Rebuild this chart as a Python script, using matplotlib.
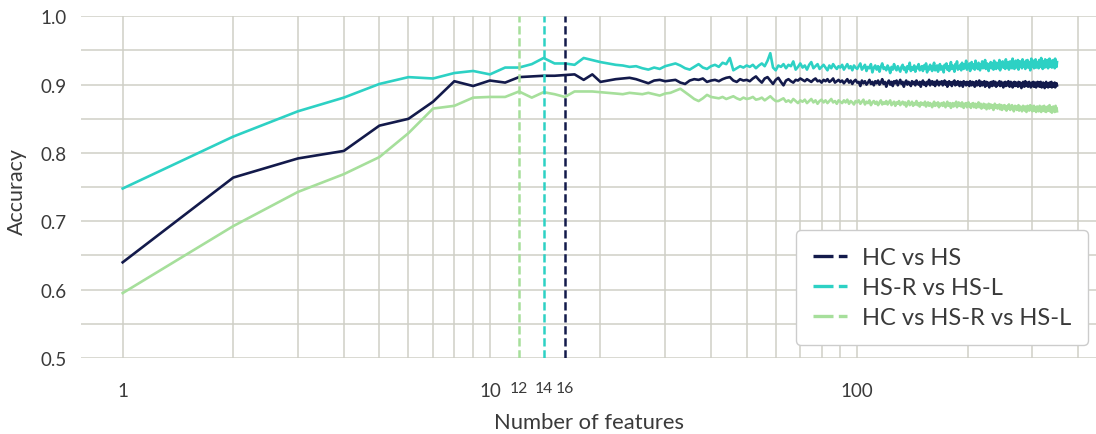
import matplotlib
matplotlib.use("Agg")
import matplotlib.pyplot as plt
from matplotlib.ticker import FixedLocator, NullFormatter, FixedFormatter
import numpy as np

plt.rcParams['font.family'] = ['Lato', 'DejaVu Sans']

# ---------------- data (accuracy in thousandths, n = 1 .. 350) ----------------
hc_hs = [
    640, 764, 792, 803, 840, 850, 875, 905, 898, 906,
    903, 911, 912, 913, 913, 914, 915, 907, 915, 904,
    906, 908, 909, 910, 908, 905, 902, 906, 907, 905,
    906, 907, 903, 901, 906, 908, 907, 909, 904, 906,
    907, 905, 908, 910, 911, 906, 904, 908, 906, 907,
    905, 909, 912, 907, 903, 909, 911, 906, 901, 907,
    910, 904, 899, 906, 908, 905, 903, 907, 906, 909,
    907, 905, 908, 906, 904, 907, 909, 905, 906, 903,
    907, 905, 908, 904, 906, 909, 903, 905, 907, 904,
    906, 902, 905, 908, 903, 906, 901, 905, 907, 903,
    904, 898, 906, 902, 905, 900, 903, 907, 901, 904,
    899, 905, 902, 906, 900, 903, 908, 901, 904, 897,
    903, 906, 900, 904, 898, 905, 902, 906, 899, 903,
    907, 901, 904, 897, 903, 906, 900, 904, 902, 898,
    905, 901, 904, 899, 906, 902, 900, 904, 897, 903,
    906, 900, 903, 898, 904, 901, 907, 899, 903, 905,
    900, 904, 898, 903, 906, 901, 899, 904, 902, 905,
    899, 903, 906, 900, 904, 897, 902, 905, 900, 903,
    898, 904, 901, 906, 899, 903, 900, 905, 902, 898,
    904, 900, 903, 897, 905, 901, 903, 899, 904, 900,
    903, 898, 905, 901, 899, 904, 900, 903, 897, 902,
    905, 899, 903, 900, 906, 898, 902, 904, 899, 903,
    900, 905, 897, 902, 904, 899, 903, 901, 896, 903,
    900, 904, 898, 902, 905, 899, 901, 904, 897, 902,
    899, 903, 900, 905, 898, 901, 904, 899, 902, 896,
    903, 900, 904, 898, 901, 903, 899, 905, 900, 897,
    902, 904, 899, 901, 896, 903, 900, 904, 898, 901,
    903, 899, 902, 897, 904, 900, 898, 903, 901, 895,
    902, 899, 904, 900, 897, 902, 905, 898, 901, 899,
    903, 897, 901, 904, 899, 902, 896, 901, 903, 898,
    900, 904, 897, 901, 899, 903, 896, 902, 900, 904,
    898, 901, 903, 897, 900, 904, 899, 896, 902, 900,
    903, 898, 901, 895, 902, 900, 904, 897, 901, 899,
    896, 902, 900, 903, 897, 901, 899, 904, 896, 900,
    902, 897, 901, 899, 903, 896, 900, 898, 902, 899,
]

hsr_hsl = [
    748, 824, 861, 881, 901, 911, 909, 917, 920, 915,
    925, 925, 930, 939, 931, 931, 929, 939, 936, 933,
    931, 929, 928, 926, 927, 924, 922, 925, 923, 927,
    929, 931, 928, 924, 922, 926, 930, 925, 923, 927,
    929, 926, 932, 930, 939, 921, 924, 927, 925, 928,
    926, 929, 924, 928, 931, 927, 935, 946, 925, 921,
    928, 926, 930, 924, 929, 927, 934, 922, 926, 931,
    925, 928, 922, 929, 933, 924, 927, 930, 923, 926,
    929, 925, 921, 928, 924, 930, 926, 923, 927, 925,
    929, 922, 926, 930, 924, 927, 921, 928, 925, 923,
    927, 931, 922, 925, 929, 920, 926, 924, 930, 918,
    925, 928, 922, 927, 919, 926, 931, 923, 925, 921,
    928, 924, 917, 926, 922, 930, 924, 921, 927, 923,
    919, 926, 929, 922, 925, 918, 927, 923, 932, 920,
    925, 922, 928, 919, 926, 924, 930, 921, 925, 927,
    920, 928, 923, 931, 918, 926, 922, 929, 924, 920,
    927, 932, 921, 925, 928, 919, 926, 930, 922, 927,
    924, 918, 929, 925, 931, 922, 927, 920, 926, 933,
    923, 928, 925, 919, 930, 926, 934, 922, 927, 924,
    929, 921, 932, 926, 923, 930, 925, 935, 922, 928,
    925, 931, 920, 928, 933, 924, 927, 930, 922, 935,
    926, 929, 923, 932, 927, 921, 930, 925, 934, 924,
    929, 926, 936, 923, 928, 931, 925, 920, 930, 927,
    933, 924, 928, 931, 922, 935, 926, 929, 923, 932,
    927, 930, 924, 936, 921, 929, 932, 926, 934, 925,
    928, 931, 923, 937, 927, 930, 925, 933, 922, 929,
    934, 926, 930, 924, 938, 927, 931, 923, 929, 935,
    925, 932, 928, 936, 922, 930, 927, 934, 926, 931,
    924, 937, 929, 932, 926, 930, 923, 935, 928, 931,
    936, 925, 930, 927, 933, 921, 929, 938, 926, 932,
    928, 935, 924, 931, 927, 937, 925, 930, 933, 926,
    931, 924, 936, 929, 932, 926, 939, 927, 930, 923,
    934, 928, 931, 925, 937, 929, 933, 926, 930, 936,
    924, 932, 928, 938, 926, 931, 929, 935, 925, 933,
    930, 936, 927, 932, 924, 938, 929, 931, 926, 933,
]

hc_hsr_hsl = [
    595, 693, 743, 769, 794, 829, 865, 869, 881, 882,
    882, 890, 881, 889, 886, 882, 890, 890, 890, 889,
    888, 887, 886, 888, 887, 886, 888, 886, 884, 887,
    888, 891, 894, 889, 884, 879, 876, 880, 885, 882,
    881, 880, 882, 879, 881, 883, 880, 878, 881, 879,
    880, 882, 878, 879, 881, 877, 880, 883, 879, 876,
    876, 878, 880, 875, 877, 874, 879, 876, 873, 877,
    875, 878, 873, 876, 879, 874, 877, 872, 876, 878,
    874, 877, 873, 876, 879, 874, 876, 872, 877, 875,
    873, 877, 874, 878, 872, 876, 874, 871, 876, 874,
    877, 872, 875, 878, 871, 875, 873, 877, 870, 874,
    876, 872, 875, 870, 874, 877, 871, 874, 872, 876,
    871, 874, 877, 870, 873, 875, 869, 874, 872, 876,
    870, 873, 875, 871, 874, 868, 873, 876, 870, 872,
    875, 869, 873, 871, 876, 870, 873, 868, 874, 871,
    873, 870, 875, 868, 872, 874, 869, 873, 871, 867,
    872, 875, 869, 873, 870, 874, 867, 872, 870, 873,
    869, 874, 871, 867, 872, 875, 869, 871, 873, 866,
    871, 873, 868, 872, 870, 875, 867, 871, 874, 869,
    872, 868, 874, 870, 866, 872, 869, 873, 867, 871,
    874, 868, 871, 866, 872, 869, 873, 867, 870, 872,
    866, 871, 869, 874, 867, 870, 872, 865, 870, 868,
    872, 866, 869, 871, 864, 870, 868, 872, 865, 869,
    871, 866, 870, 868, 863, 869, 872, 866, 868, 870,
    865, 869, 867, 871, 864, 868, 870, 863, 867, 869,
    866, 870, 864, 868, 862, 867, 869, 865, 871, 866,
    863, 868, 866, 870, 864, 867, 861, 866, 869, 865,
    868, 863, 867, 865, 870, 862, 866, 868, 864, 867,
    861, 866, 869, 864, 867, 862, 868, 865, 860, 866,
    869, 864, 867, 862, 866, 870, 863, 865, 868, 861,
    866, 864, 869, 862, 867, 865, 860, 866, 868, 863,
    867, 861, 865, 869, 863, 866, 860, 865, 868, 862,
    866, 864, 869, 861, 865, 867, 860, 866, 863, 868,
    862, 866, 864, 870, 861, 865, 867, 863, 859, 866,
    864, 868, 862, 866, 860, 865, 869, 863, 866, 861,
]

labels = ["HC vs HS", "HS-R vs HS-L", "HC vs HS-R vs HS-L"]
best_n = [16, 14, 12]
colors = ["#131a4b", "#2dd1c4", "#a6df9b"]
major_ticks = [1, 10, 100]
best_tick_labels = ["12", "14", "16"]
best_tick_pos = [12, 14, 16]
minor_grid = [2, 3, 4, 5, 6, 7, 8, 9, 20, 30, 40, 50, 60, 70, 80, 90, 200, 300, 400]

series = [hc_hs, hsr_hsl, hc_hsr_hsl]

# ---------------- figure ----------------
fig = plt.figure(figsize=(10.96, 4.35), dpi=100)
ax = fig.add_axes([81 / 1096, 76 / 435, 1015 / 1096, 341.7 / 435])

text_color = "#3a3a3a"
grid_color = "#cfcfc6"

for vals, col in zip(series, colors):
    n = np.arange(1, len(vals) + 1)
    ax.plot(n, np.array(vals) / 1000.0, color=col, lw=1.9, zorder=3,
            solid_joinstyle='round')

for b, col, lab in zip(best_n, colors, labels):
    ax.axvline(b, color=col, lw=1.8, ls=(0, (3.3, 1.5)), zorder=4, label=lab)

ax.set_xscale('log')
ax.set_xlim(0.77, 447)
ax.set_ylim(0.5, 1.0)

ax.xaxis.set_major_locator(FixedLocator(major_ticks))
ax.xaxis.set_major_formatter(FixedFormatter([str(t) for t in major_ticks]))
ax.xaxis.set_minor_locator(FixedLocator(minor_grid))
ax.xaxis.set_minor_formatter(NullFormatter())

ax.set_yticks(np.arange(0.5, 1.01, 0.1))
ax.set_yticklabels([f"{v:.1f}" for v in np.arange(0.5, 1.01, 0.1)])
ax.set_yticks(np.arange(0.55, 1.0, 0.1), minor=True)

ax.grid(True, which='both', color=grid_color, lw=1.1, zorder=0)
ax.set_axisbelow(True)
for s in ax.spines.values():
    s.set_visible(False)

ax.tick_params(axis='both', which='both', length=0, colors=text_color)
ax.tick_params(axis='x', which='major', labelsize=13.5, pad=17)
ax.tick_params(axis='y', which='major', labelsize=13.5, pad=10)

trans = ax.get_xaxis_transform()
for pos, lab in zip(best_tick_pos, best_tick_labels):
    ax.text(pos, -0.089, lab, transform=trans, ha='center', va='center',
            fontsize=11.3, color=text_color)

ax.set_xlabel("Number of features", fontsize=15.8, color=text_color)
ax.xaxis.set_label_coords(0.5, -0.157)
ax.set_ylabel("Accuracy", fontsize=15.5, color=text_color)
ax.yaxis.set_label_coords(-0.053, 0.49)

leg = ax.legend(loc='lower right', bbox_to_anchor=(0.992, 0.038),
                borderaxespad=0, fontsize=17, frameon=True, fancybox=True,
                handlelength=1.45, handletextpad=0.6, labelspacing=0.38,
                borderpad=0.72, labelcolor=text_color)
leg.get_frame().set_edgecolor("#cccccc")
leg.get_frame().set_linewidth(1.0)
leg.get_frame().set_alpha(1.0)
for h in leg.get_lines():
    h.set_linewidth(2.4)
    h.set_linestyle((0, (6.0, 1.6)))

fig.savefig("out.png", dpi=100)
